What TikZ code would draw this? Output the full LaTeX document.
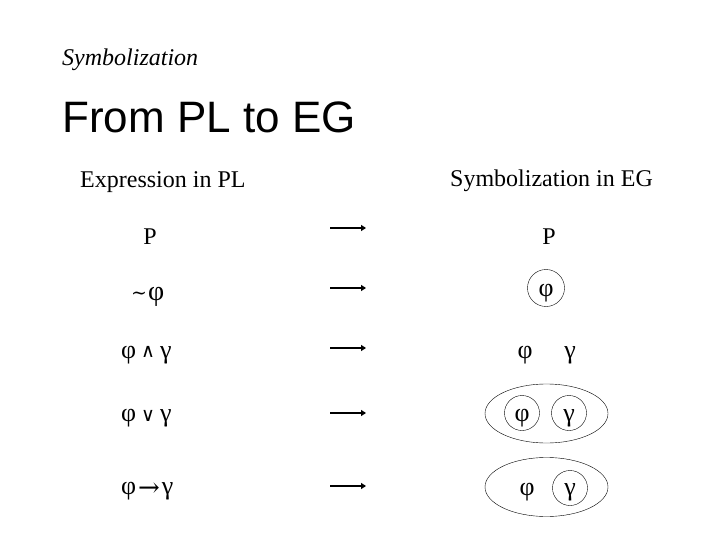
\documentclass[tikz,border=0pt]{standalone}
\usepackage{fontspec}
\setmainfont{Liberation Serif}
\newfontfamily\headfont{Liberation Sans}
\newfontfamily\opfont{DejaVu Serif}
\usepackage{tikz}
\usetikzlibrary{calc, positioning, arrows.meta, shapes.geometric}

\newcommand{\gk}[1]{{\fontsize{26}{28}\selectfont #1}}
\newcommand{\op}[1]{{\opfont\fontsize{19}{19}\selectfont #1}}

\begin{document}
\begin{tikzpicture}[x=1pt, y=-1pt,
    txt/.style={font=\fontsize{24}{28}\selectfont, inner sep=0pt},
    blob/.style={draw, thin, circle, minimum size=35pt, inner sep=0pt},
    cut/.style={draw, thin, ellipse, minimum width=123pt, minimum height=59pt, inner sep=0pt},
    maps/.style={line width=2pt, -{Triangle[length=5pt, width=6pt]}}]
  \useasboundingbox (0,0) rectangle (720,540);

  % --- titles ---
  \node[font=\fontsize{24}{28}\selectfont\itshape, inner sep=0pt, anchor=base west] (sub) at (62,66) {Symbolization};
  \node[font=\headfont\fontsize{44}{50}\selectfont, inner sep=0pt, anchor=base west] (head) at (62,133) {From PL to EG};

  % --- column heads ---
  \node[txt, anchor=base west] (colPL) at (80,188) {Expression in PL};
  \node[txt, anchor=base west] (colEG) at (450,187) {Symbolization in EG};

  % --- PL side ---
  \node[txt, anchor=base] (plP) at (150,244) {P};
  \node[txt, anchor=base west] (plNot) at (131,300) {\raisebox{1pt}{\op{\char"223C}}\kern1pt{\fontsize{28}{28}\selectfont φ}};
  \node[txt, anchor=base west] (plAnd) at (121,358) {\gk{φ}\kern5pt\raisebox{1pt}{\op{∧}}\kern5pt\gk{γ}};
  \node[txt, anchor=base west] (plOr) at (121,421) {\gk{φ}\kern5pt\op{∨}\kern5pt\gk{γ}};
  \node[txt, anchor=base west] (plIf) at (121,494) {\gk{φ}\kern2pt\raisebox{-2pt}{\opfont\fontsize{26}{26}\selectfont →}\kern2pt\gk{γ}};

  % --- arrows ---
  \foreach \r/\y in {1/228, 2/288, 3/348, 4/413, 5/486} {
    \coordinate (s\r) at (330,\y);
    \coordinate (e\r) at (366,\y);
    \draw[maps] (s\r) -- (e\r);
  }

  % --- EG side ---
  \node[txt, anchor=base] (egP) at (549,244) {P};
  % negation
  \node[blob, minimum size=37pt] (cutNot) at (546,288) {};
  \node[txt, anchor=base] (egNot) at (546,296) {\gk{φ}};
  % conjunction
  \node[txt, anchor=base] (andA) at (525,358) {\gk{φ}};
  \node[txt, anchor=base] (andB) at (570,358) {\gk{γ}};
  % disjunction
  \node[cut] (orCut) at (546.5,413.5) {};
  \node[blob] (orA) at (522,413) {};
  \node[blob] (orB) at (569,413) {};
  \node[txt, anchor=base] (orAt) at (522,421) {\gk{φ}};
  \node[txt, anchor=base] (orBt) at (569,421) {\gk{γ}};
  % implication
  \node[cut] (ifCut) at (546.5,487) {};
  \node[txt, anchor=base] (ifA) at (527,495) {\gk{φ}};
  \node[blob] (ifB) at (570,488) {};
  \node[txt, anchor=base] (ifBt) at (570,495) {\gk{γ}};
\end{tikzpicture}
\end{document}
